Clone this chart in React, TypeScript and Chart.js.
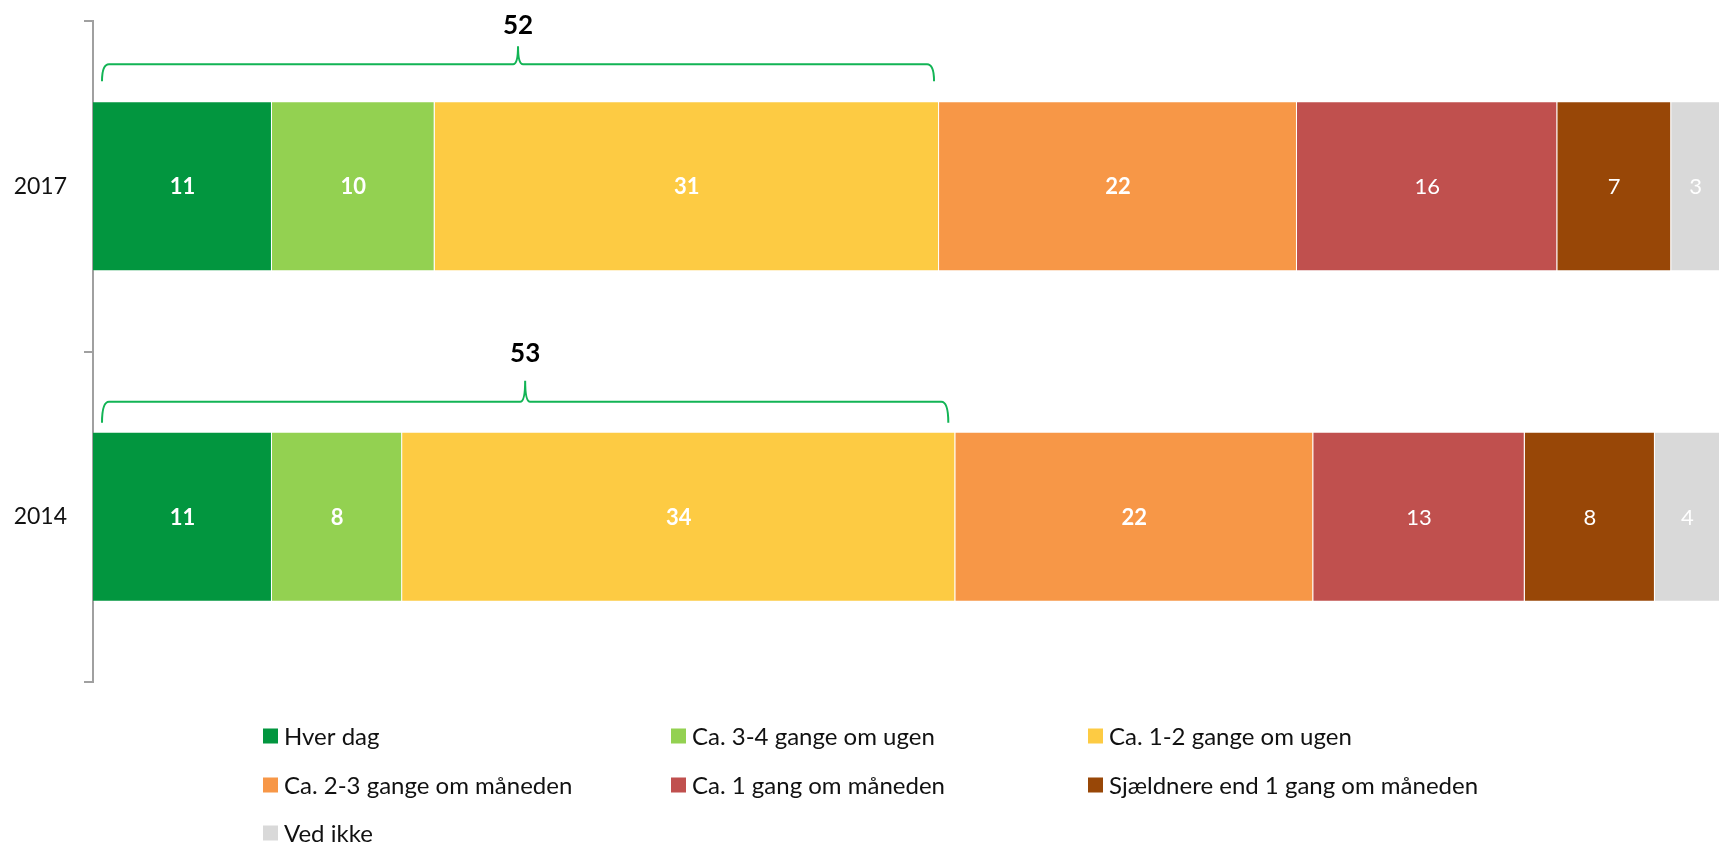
import React, { useEffect, useRef } from "react";
import { Chart, registerables } from "chart.js";

Chart.register(...registerables);

const categories = ["2017", "2014"];
const seriesLabels = [
  "Hver dag",
  "Ca. 3-4 gange om ugen",
  "Ca. 1-2 gange om ugen",
  "Ca. 2-3 gange om måneden",
  "Ca. 1 gang om måneden",
  "Sjældnere end 1 gang om måneden",
  "Ved ikke",
];
const hverDag = [11, 11];
const ca34Ugen = [10, 8];
const ca12Ugen = [31, 34];
const ca23Maaned = [22, 22];
const ca1Maaned = [16, 13];
const sjaeldnere = [7, 8];
const vedIkke = [3, 4];
const braceTotals = [52, 53];

const seriesValues = [hverDag, ca34Ugen, ca12Ugen, ca23Maaned, ca1Maaned, sjaeldnere, vedIkke];
const colors = ["#02963f", "#93d151", "#fdcb43", "#f79747", "#c0504e", "#984707", "#d9d9d9"];
const boldLabels = [true, true, true, true, false, false, false];

const FONT = "Lato, 'Noto Sans', sans-serif";

const braceStyles = [
  { end: 20, h: 37, peak: 55, label: 76, inL: 9, inR: 5 },
  { end: 9, h: 30, peak: 51, label: 78, inL: 9, inR: 7 },
];

const dataLabelPlugin = {
  id: "dataLabels",
  afterDatasetsDraw(chart: any) {
    const ctx = chart.ctx;
    ctx.save();
    ctx.textAlign = "center";
    ctx.textBaseline = "middle";
    ctx.fillStyle = "#ffffff";
    chart.data.datasets.forEach((ds: any, i: number) => {
      const meta = chart.getDatasetMeta(i);
      ctx.font = (boldLabels[i] ? "bold " : "") + "22px " + FONT;
      meta.data.forEach((bar: any, j: number) => {
        const p = bar.getCenterPoint();
        ctx.fillText(String(ds.data[j]), p.x, p.y + 1);
      });
    });
    ctx.restore();
  },
};

const bracePlugin = {
  id: "braces",
  afterDatasetsDraw(chart: any) {
    const ctx = chart.ctx;
    const xs = chart.scales.x;
    const meta = chart.getDatasetMeta(0);
    ctx.save();
    braceTotals.forEach((total, j) => {
      const bar: any = meta.data[j];
      const top = bar.y - bar.height / 2;
      const st = braceStyles[j];
      const x0 = xs.getPixelForValue(0) + st.inL;
      const x1 = xs.getPixelForValue(total) - st.inR;
      const xc = (x0 + x1) / 2;
      const yB = top - st.end;
      const yH = top - st.h;
      const yP = top - st.peak;
      ctx.strokeStyle = "#12b455";
      ctx.lineWidth = 2;
      ctx.beginPath();
      ctx.moveTo(x0, yB);
      ctx.quadraticCurveTo(x0, yH, x0 + 7, yH);
      ctx.lineTo(xc - 5, yH);
      ctx.quadraticCurveTo(xc, yH, xc, yP);
      ctx.quadraticCurveTo(xc, yH, xc + 5, yH);
      ctx.lineTo(x1 - 7, yH);
      ctx.quadraticCurveTo(x1, yH, x1, yB);
      ctx.stroke();
      ctx.fillStyle = "#000000";
      ctx.font = "bold 26px " + FONT;
      ctx.textAlign = "center";
      ctx.textBaseline = "middle";
      ctx.fillText(String(total), xc, top - st.label);
    });
    ctx.restore();
  },
};

const legendPlugin = {
  id: "gridLegend",
  afterDraw(chart: any) {
    const ctx = chart.ctx;
    const colX = [263, 671, 1088];
    const rowY = [736, 785, 833];
    ctx.save();
    ctx.font = "24px " + FONT;
    ctx.textBaseline = "middle";
    ctx.textAlign = "left";
    chart.data.datasets.forEach((ds: any, i: number) => {
      const cx = colX[i % 3];
      const cy = rowY[Math.floor(i / 3)];
      ctx.fillStyle = ds.backgroundColor;
      ctx.fillRect(cx, cy - 7.5, 15, 15);
      ctx.fillStyle = "#111111";
      ctx.fillText(ds.label, cx + 21, cy + 1);
    });
    ctx.restore();
  },
};

export default function App() {
  const ref = useRef<HTMLCanvasElement | null>(null);
  useEffect(() => {
    document.body.style.margin = "0";
    const canvas = ref.current;
    if (!canvas) return;
    const chart = new Chart(canvas, {
      type: "bar",
      data: {
        labels: categories,
        datasets: seriesLabels.map((label, i) => ({
          label,
          data: seriesValues[i],
          backgroundColor: colors[i],
          borderColor: "rgba(255,255,255,0.15)",
          borderWidth: 1,
          categoryPercentage: 1,
          barPercentage: 0.514,
        })),
      },
      options: {
        indexAxis: "y",
        animation: false,
        responsive: true,
        maintainAspectRatio: false,
        layout: { padding: { top: 21, bottom: 160, left: 0, right: 0 } },
        plugins: {
          legend: { display: false },
          tooltip: { enabled: false },
        },
        scales: {
          x: {
            stacked: true,
            min: 0,
            max: 100,
            display: false,
          },
          y: {
            stacked: true,
            afterFit: (scale: any) => {
              scale.width = 93;
              scale.paddingTop = 0;
              scale.paddingBottom = 0;
            },
            grid: {
              drawOnChartArea: false,
              drawTicks: true,
              tickLength: 9,
              color: "#a0a0a0",
              lineWidth: 2,
              offset: true,
            },
            border: { display: true, color: "#a0a0a0", width: 2 },
            ticks: {
              color: "#111111",
              padding: 17,
              font: { family: FONT, size: 23 },
            },
          },
        },
      } as any,
      plugins: [dataLabelPlugin, bracePlugin, legendPlugin],
    });
    return () => chart.destroy();
  }, []);
  return (
    <div style={{ width: "1720px", height: "842px", position: "relative", overflow: "hidden", background: "#fff" }}>
      <canvas ref={ref} />
    </div>
  );
}
